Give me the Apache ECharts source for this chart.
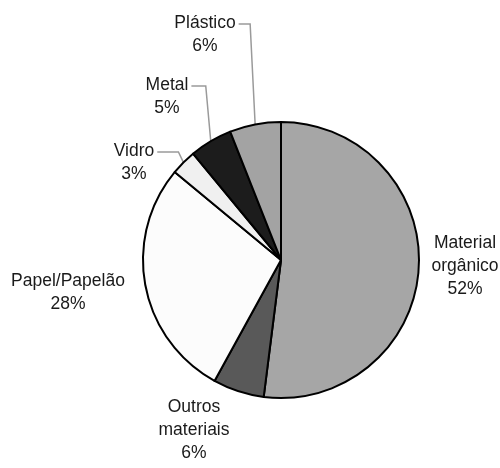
<!DOCTYPE html>
<html>
<head>
<meta charset="utf-8">
<script src="https://cdn.jsdelivr.net/npm/echarts@6/dist/echarts.min.js"></script>
<style>
html, body { margin: 0; padding: 0; background: #fff; }
#chart { width: 500px; height: 468px; }
</style>
</head>
<body>
<div id="chart"></div>
<script>
// dados do gráfico (sentido horário a partir das 12h)
var categorias = ['Material\norgânico', 'Outros\nmateriais', 'Papel/Papelão', 'Vidro', 'Metal', 'Plástico'];
var percentuais = [52, 6, 28, 3, 5, 6];
var cores = ['#a6a6a6', '#595959', '#fcfcfc', '#f0f0f0', '#1c1c1c', '#a3a3a3'];

// posição dos rótulos (centro do bloco de texto)
var posRotulos = [[465, 266], [194, 430], [68, 293], [134, 163], [167, 97], [205, 35]];
var comLinha = [false, false, false, true, true, true];

var dados = [];
for (var i = 0; i < categorias.length; i++) {
	dados.push({
		name: categorias[i],
		value: percentuais[i],
		itemStyle: { color: cores[i] },
		labelLine: { show: comLinha[i] }
	});
}

var grafico = echarts.init(document.getElementById('chart'));
grafico.setOption({
	animation: false,
	series: [{
		type: 'pie',
		center: [281, 260],
		radius: 138,
		startAngle: 90,
		clockwise: true,
		avoidLabelOverlap: false,
		itemStyle: {
			borderColor: '#000',
			borderWidth: 2
		},
		label: {
			show: true,
			position: 'outside',
			formatter: '{b}\n{c}%',
			fontFamily: 'Liberation Sans, Arial, sans-serif',
			fontSize: 17.5,
			lineHeight: 23,
			color: '#1a1a1a'
		},
		labelLine: {
			length: 10,
			length2: 10,
			lineStyle: { color: '#9a9a9a', width: 1.5 }
		},
		labelLayout: function (params) {
			var p = posRotulos[params.dataIndex];
			var res = { x: p[0], y: p[1], align: 'center', verticalAlign: 'middle' };
			var pts = params.labelLinePoints;
			if (comLinha[params.dataIndex] && pts) {
				// linha em cotovelo: sobe da fatia e segue até o fim da primeira linha do texto
				var ini = pts[0];
				var yTopo = p[1] - 11;
				var xFim = p[0] + params.labelRect.width / 2 + 3;
				res.labelLinePoints = [ini, [ini[0] - 5, yTopo], [xFim, yTopo]];
			}
			return res;
		},
		data: dados
	}]
});
</script>
</body>
</html>
